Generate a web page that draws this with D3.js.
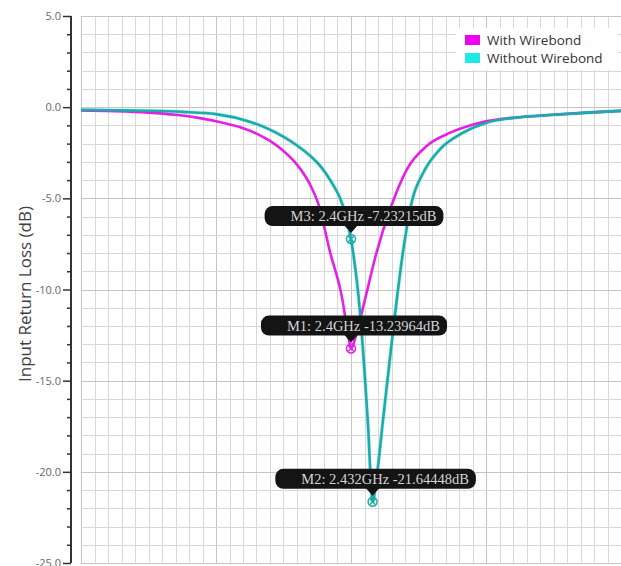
<!DOCTYPE html>
<html>
<head>
<meta charset="utf-8">
<script src="https://cdn.jsdelivr.net/npm/d3@7"></script>
<style>
  body { margin: 0; background: #fff; }
  svg { display: block; }
</style>
</head>
<body>
<div id="chart"></div>
<script>
var width = 621;
var height = 566;

// series (frequency in GHz, loss in dB)
var withFreq = [2.00, 2.05, 2.10, 2.14, 2.176, 2.21, 2.236, 2.26, 2.28, 2.30, 2.32, 2.338, 2.352, 2.369, 2.387, 2.396, 2.400,
    2.406, 2.421, 2.438, 2.458, 2.483, 2.513, 2.547, 2.591, 2.65, 2.70, 2.75, 2.80];
var withLoss = [-0.18, -0.22, -0.30, -0.42, -0.60, -0.85, -1.10, -1.45, -1.85, -2.40, -3.15, -4.15, -5.35, -7.95, -10.5, -12.55, -13.24,
    -12.7, -10.5, -7.95, -5.6, -3.4, -2.1, -1.4, -0.85, -0.55, -0.42, -0.30, -0.20];

var withoutFreq = [2.00, 2.05, 2.10, 2.15, 2.20, 2.25, 2.275, 2.299, 2.32, 2.339, 2.355, 2.37, 2.388, 2.400, 2.413, 2.425, 2.432,
    2.438, 2.447, 2.461, 2.468, 2.477, 2.490, 2.507, 2.532, 2.566, 2.601, 2.65, 2.70, 2.75, 2.80];
var withoutLoss = [-0.15, -0.17, -0.20, -0.26, -0.38, -0.80, -1.15, -1.60, -2.10, -2.65, -3.25, -4.05, -5.40, -7.23, -11.1, -17.3, -21.64,
    -20.3, -17.3, -12.7, -10.5, -7.95, -5.2, -3.6, -2.3, -1.4, -0.85, -0.55, -0.42, -0.30, -0.20];

var seriesNames = ["With Wirebond", "Without Wirebond"];
var seriesColors = ["#e61fe6", "#1fa9a9"];
var legendColors = ["#f000f0", "#1ee8e8"];

// markers
var markerNames = ["M3", "M1", "M2"];
var markerFreq = [2.4, 2.4, 2.432];
var markerLoss = [-7.23215, -13.23964, -21.64448];
var markerSeries = [1, 0, 1];

var yTicks = [5, 0, -5, -10, -15, -20, -25];

var margin = { top: 16, right: 0, bottom: 3, left: 81 };

var svg = d3.select("#chart").append("svg")
    .attr("width", width)
    .attr("height", height);

var x = d3.scaleLinear().domain([2.0, 2.8]).range([margin.left, width - margin.right]);
var y = d3.scaleLinear().domain([5, -25]).range([margin.top, height - margin.bottom]);

// grid
var grid = svg.append("g");
grid.selectAll(".vmin").data(d3.range(0, 41)).enter().append("line")
    .attr("x1", function (i) { return Math.round(x(2.0 + i * 0.02)) + 0.5; })
    .attr("x2", function (i) { return Math.round(x(2.0 + i * 0.02)) + 0.5; })
    .attr("y1", y(5)).attr("y2", y(-25))
    .attr("stroke", function (i) { return i % 10 === 0 ? "#c4c4c4" : "#d8d8d8"; })
    .attr("stroke-width", 1);
grid.selectAll(".hmin").data(d3.range(0, 31)).enter().append("line")
    .attr("y1", function (i) { return Math.round(y(5 - i)) + 0.5; })
    .attr("y2", function (i) { return Math.round(y(5 - i)) + 0.5; })
    .attr("x1", x(2.0)).attr("x2", x(2.8))
    .attr("stroke", function (i) { return i % 5 === 0 ? "#c4c4c4" : "#d8d8d8"; })
    .attr("stroke-width", 1);

// y axis
var yAxis = d3.axisLeft(y)
    .tickValues(d3.range(5, -25.5, -1))
    .tickSize(4)
    .tickFormat(function (d) { return yTicks.indexOf(d) >= 0 ? d3.format(".1f")(d).replace("−", "-") : ""; });

var ax = svg.append("g")
    .attr("transform", "translate(71,0)")
    .call(yAxis);
ax.select(".domain").attr("stroke", "#333").attr("stroke-width", 2).attr("d", "M0," + y(5) + "V" + y(-25));
ax.selectAll(".tick line").attr("stroke", "#333").attr("stroke-width", 1.5)
    .attr("x2", function (d) { return yTicks.indexOf(d) >= 0 ? -8 : -4; });
ax.selectAll(".tick text")
    .attr("x", -10)
    .attr("fill", "#666")
    .style("font-family", "'Open Sans', sans-serif")
    .style("font-size", "11px");

svg.append("text")
    .attr("transform", "translate(31," + 294 + ") rotate(-90)")
    .attr("text-anchor", "middle")
    .attr("fill", "#404040")
    .style("font-family", "'Open Sans', sans-serif")
    .style("font-size", "17px")
    .text("Input Return Loss (dB)");

// curves
var line = d3.line()
    .x(function (d) { return x(d[0]); })
    .y(function (d) { return y(d[1]); })
    .curve(d3.curveMonotoneX);

var series = [d3.zip(withFreq, withLoss), d3.zip(withoutFreq, withoutLoss)];

svg.append("path")
    .datum(series[1])
    .attr("fill", "none")
    .attr("stroke", "#7ff0f0")
    .attr("stroke-width", 4)
    .attr("opacity", 0.5)
    .attr("d", line);

series.forEach(function (s, i) {
    svg.append("path")
        .datum(s)
        .attr("fill", "none")
        .attr("stroke", seriesColors[i])
        .attr("stroke-width", 2.6)
        .attr("d", line);
});

// legend
var legend = svg.append("g").attr("transform", "translate(456,28)");
legend.append("rect").attr("width", 162).attr("height", 42).attr("fill", "#fff");
seriesNames.forEach(function (name, i) {
    legend.append("rect")
        .attr("x", 9).attr("y", 7 + i * 18)
        .attr("width", 15).attr("height", 10)
        .attr("fill", legendColors[i]);
    legend.append("text")
        .attr("x", 31).attr("y", 17 + i * 18)
        .attr("fill", "#333")
        .style("font-family", "'Open Sans', sans-serif")
        .style("font-size", "13.5px")
        .text(name);
});

// markers with tooltips
markerNames.forEach(function (name, i) {
    var mx = x(markerFreq[i]);
    var my = y(markerLoss[i]);
    var col = seriesColors[markerSeries[i]];

    var g = svg.append("g");
    var txt = g.append("text")
        .attr("fill", "#d4d4d4")
        .style("font-family", "'Liberation Serif', serif")
        .style("font-size", "14.5px")
        .text(name + ": " + markerFreq[i] + "GHz " + markerLoss[i] + "dB");
    var tw = txt.node().getComputedTextLength();
    var bw = tw + 33;
    var bx = mx - bw / 2 + 3;
    var by = my - 33;

    g.insert("rect", "text")
        .attr("x", bx).attr("y", by)
        .attr("width", bw).attr("height", 20)
        .attr("rx", 8)
        .attr("fill", "#141414");
    g.insert("path", "text")
        .attr("d", "M" + (mx - 7) + "," + (by + 19) + "L" + (mx + 7) + "," + (by + 19) + "L" + mx + "," + (my - 6) + "Z")
        .attr("fill", "#141414");
    txt.attr("x", bx + 26).attr("y", by + 15);

    var m = svg.append("g").attr("transform", "translate(" + mx + "," + my + ")");
    m.append("circle").attr("r", 4.5).attr("fill", "none").attr("stroke", col).attr("stroke-width", 1.5);
    m.append("path").attr("d", "M-3,-3L3,3M-3,3L3,-3").attr("stroke", col).attr("stroke-width", 1.3);
});
</script>
</body>
</html>
